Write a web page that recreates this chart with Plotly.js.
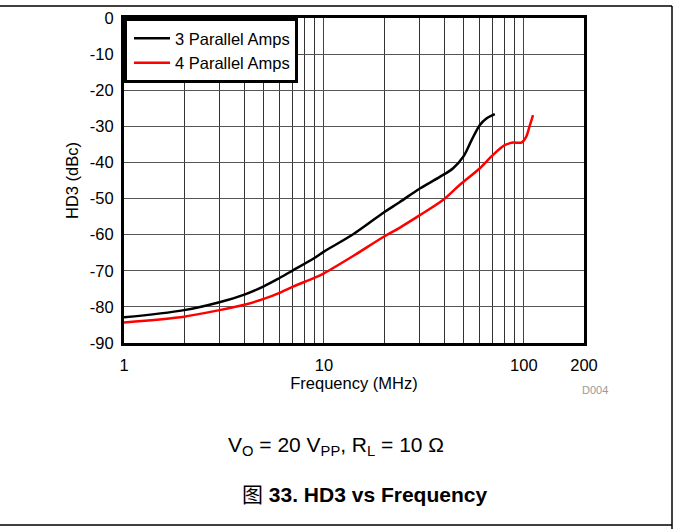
<!DOCTYPE html>
<html><head><meta charset="utf-8">
<script src="https://cdn.plot.ly/plotly-3.0.1.min.js"></script>
<style>body{margin:0;background:#fff}#chart{width:677px;height:529px}</style>
</head><body><div id="chart"></div>
<script>
// Frequency (MHz) and HD3 (dBc)
const freq3 = [1, 2, 3, 4, 5, 6, 7, 9, 10, 14, 20, 23.9, 30.2, 38, 44.3, 49.8, 54.8, 60.3, 65, 71.6];
const hd3_3 = [-82.9, -80.9, -78.7, -76.6, -74.3, -72.0, -69.9, -66.4, -64.7, -59.9, -53.8, -51.0, -47.2, -44.0, -41.6, -38.4, -33.8, -29.6, -27.8, -26.6];
const freq4 = [1, 2, 3, 4, 5, 6, 7, 9, 10, 14, 20, 23.9, 30.2, 39.4, 47.6, 60.3, 70.1, 80.2, 88.4, 97.3, 102.7, 106.7, 111.2];
const hd3_4 = [-84.3, -82.7, -80.9, -79.4, -77.8, -76.1, -74.4, -71.9, -70.7, -65.9, -60.5, -58.1, -54.6, -50.4, -46.3, -41.6, -37.9, -35.2, -34.5, -34.5, -32.9, -30.1, -26.9];
const names = ['3 Parallel Amps', '4 Parallel Amps'];
const xTickVals = [1, 10, 100, 200];
const xTickText = ['1', '10', '100', '200'];
const xMinorVals = [2,3,4,5,6,7,8,9,20,30,40,50,60,70,80,90];
const yTickVals = [0,-10,-20,-30,-40,-50,-60,-70,-80,-90];
const yTickText = ['0','-10','-20','-30','-40','-50','-60','-70','-80','-90'];

const font = 'Liberation Sans, Arial, sans-serif';
const fs = 16.5;
const traces = [
  {x: freq3, y: hd3_3, name: names[0], mode: 'lines', line: {color: '#000', width: 2.5, shape: 'spline', smoothing: 1}},
  {x: freq4, y: hd3_4, name: names[1], mode: 'lines', line: {color: '#ff0000', width: 2.5, shape: 'spline', smoothing: 0.8}}
];
const px = v => (v - 124) / 460;
const py = v => (343 - v) / 325;
const layout = {
  width: 677, height: 529,
  margin: {l: 124, r: 93, t: 18, b: 186},
  paper_bgcolor: '#fff', plot_bgcolor: '#fff',
  font: {family: font, size: fs, color: '#000'},
  showlegend: true,
  legend: {x: 0, y: 1, xanchor: 'left', yanchor: 'top', bgcolor: '#fff', bordercolor: '#000', borderwidth: 3,
           font: {family: font, size: fs, color: '#000'}, tracegroupgap: 0, itemwidth: 36, indentation: 2},
  xaxis: {type: 'log', range: [0, Math.log10(200)], tickmode: 'array', tickvals: xTickVals, ticktext: xTickText,
          showgrid: true, gridcolor: '#444', gridwidth: 1, ticks: '', showline: true, linecolor: '#000', linewidth: 3, mirror: true,
          zeroline: false, tickfont: {size: fs}, ticklabelstandoff: 5,
          minor: {tickmode: 'array', tickvals: xMinorVals, showgrid: true, gridcolor: '#333', gridwidth: 1, ticks: ''},
          title: {text: 'Frequency (MHz)', font: {size: fs}, standoff: 4}},
  yaxis: {range: [-90, 0], tickmode: 'array', tickvals: yTickVals, ticktext: yTickText,
          showgrid: true, gridcolor: '#555', gridwidth: 1, ticks: '', showline: true, linecolor: '#000', linewidth: 3, mirror: true,
          zeroline: false, tickfont: {size: fs}, ticklabelstandoff: 4,
          title: {text: 'HD3 (dBc)', font: {size: fs}, standoff: 8}},
  shapes: [
    {type: 'line', xref: 'paper', yref: 'paper', x0: px(0), x1: px(672), y0: py(6), y1: py(6), line: {color: '#000', width: 1.5}},
    {type: 'line', xref: 'paper', yref: 'paper', x0: px(672), x1: px(672), y0: py(6), y1: py(529), line: {color: '#000', width: 1.5}},
    {type: 'line', xref: 'paper', yref: 'paper', x0: px(0), x1: px(672), y0: py(525), y1: py(525), line: {color: '#000', width: 1.5}}
  ],
  annotations: [
    {xref: 'paper', yref: 'paper', x: px(595), y: py(390), xanchor: 'center', yanchor: 'middle', text: 'D004', showarrow: false, font: {size: 11, color: '#999'}},
    {xref: 'paper', yref: 'paper', x: px(336), y: py(446), xanchor: 'center', yanchor: 'middle', text: 'V<sub>O</sub> = 20 V<sub>PP</sub>, R<sub>L</sub> = 10 Ω', showarrow: false, font: {size: 21}},
    {xref: 'paper', yref: 'paper', x: px(364), y: py(493), xanchor: 'center', yanchor: 'middle', text: '<span style="font-family:Noto Sans CJK SC;font-weight:normal">图</span> <b>33. HD3 vs Frequency</b>', showarrow: false, font: {size: 21}}
  ]
};
Plotly.newPlot('chart', traces, layout, {staticPlot: true, displayModeBar: false});
</script></body></html>
